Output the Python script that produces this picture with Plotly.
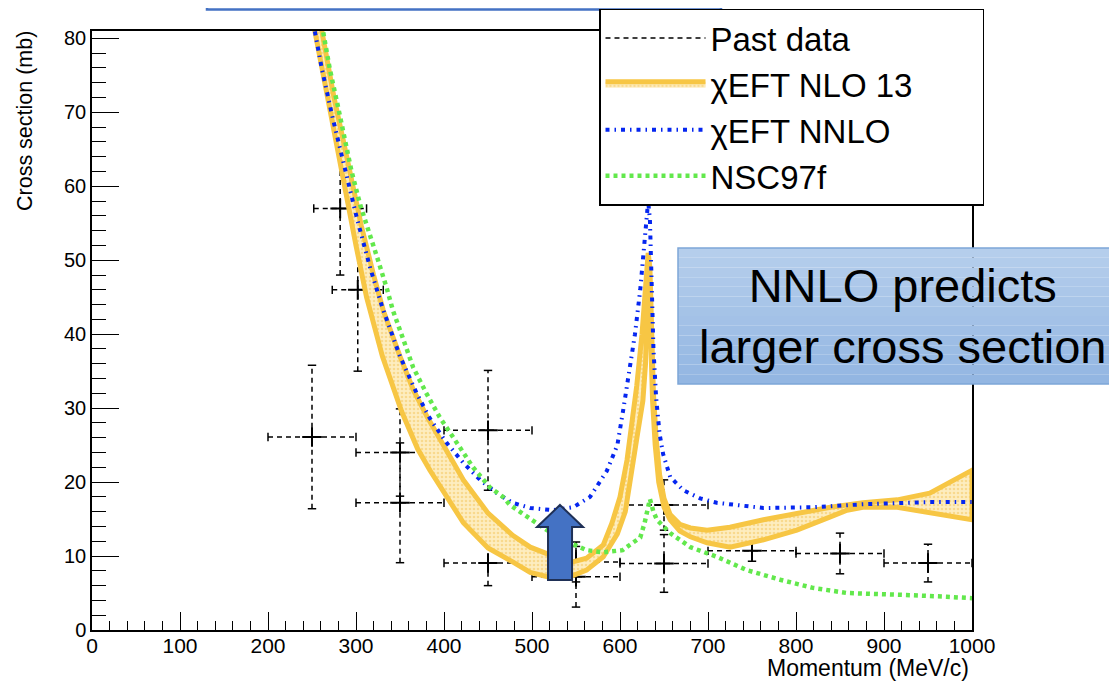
import plotly.graph_objects as go

# ---------------- data ----------------
# Past data (cross section points with errors)
data_x = [250, 282, 302, 350, 350, 450, 450, 550, 550, 650, 650, 750, 850, 950]
data_y = [26.1, 57.0, 46.0, 24.0, 17.2, 27.0, 9.05, 9.2, 7.2, 16.9, 9.0, 10.7, 10.35, 9.05]
data_xerr = [50, 30, 29, 50, 50, 50, 50, 50, 50, 50, 50, 50, 50, 50]
data_yerr = [9.7, 9.0, 11.0, 5.9, 8.1, 8.1, 3.05, 2.7, 4.1, 3.4, 3.9, 1.4, 2.75, 2.55]

# chiEFT NLO 13 band: upper edge
nlo_up_x = [255, 265, 275, 285, 300, 306, 320, 331, 350, 365, 381, 403, 422, 450, 478, 498,
            524, 543, 562, 581, 591, 600, 608, 614, 619, 625, 629, 632, 634, 636, 638, 641,
            645, 650, 657, 668, 680, 699, 725, 763, 801, 839, 876, 915, 952, 1000]
nlo_up_y = [85, 78.5, 72, 66.5, 58.1, 54.7, 48, 43.2, 37, 32.5, 28.8, 24.3, 20.3, 15.8, 12.8, 11.2,
            9.9, 9.1, 9.7, 11.5, 14.5, 18, 23, 28, 33, 40, 46, 51, 49, 40, 32, 26,
            21, 17.8, 15.6, 14.3, 13.8, 13.5, 13.9, 14.9, 15.8, 16.6, 17.2, 17.6, 18.5, 21.6]
# chiEFT NLO 13 band: lower edge
nlo_lo_x = [250, 260, 270, 280, 290, 300, 312, 330, 352, 370, 384, 400, 422, 450, 478, 498,
            524, 543, 562, 581, 597, 606, 612, 620, 626, 629, 632, 633, 635, 637, 640, 644,
            650, 657, 668, 680, 699, 725, 763, 801, 839, 858, 876, 915, 952, 1000]
nlo_lo_y = [83, 76.5, 70, 64, 58.3, 52, 45, 37, 29.5, 24.5, 21.6, 18.5, 14.5, 11.1, 9.2, 7.8,
            7.0, 7.2, 8.1, 9.9, 13, 16, 20, 26.6, 31, 36, 48, 49, 39, 31, 25, 20,
            16.6, 14.9, 13.4, 12.6, 11.8, 11.2, 12.2, 13.5, 15.3, 16.2, 16.6, 16.6, 15.9, 14.9]

# chiEFT NNLO
nnlo_x = [250, 261, 273, 282, 291, 301, 316, 330, 350, 369, 384, 403, 422, 441, 460, 478, 498,
          524, 547, 566, 585, 597, 604, 611, 617, 623, 627, 630, 632, 634, 636, 638, 641, 645,
          649, 657, 672, 691, 710, 763, 819, 876, 952, 1000]
nnlo_y = [83, 76, 69.5, 65, 60.5, 55.7, 49, 43.6, 37, 32, 28.6, 25.3, 22.6, 20.3, 18.5, 17.2, 16.5,
          16.2, 16.6, 18, 21.5, 25, 30, 35.5, 40, 46, 52, 56.5, 58, 55.5, 47, 38, 31.5, 26.5,
          23.8, 20.7, 18.9, 17.8, 17.2, 16.5, 16.6, 17.0, 17.3, 17.3]

# NSC97f
nsc_x = [258, 263, 270, 280, 288, 295, 305, 316, 324, 335, 342, 354, 365, 380, 395, 418, 433,
         452, 467, 475, 498, 517, 543, 562, 581, 603, 611, 623, 628, 634, 638, 642, 657, 680,
         710, 744, 782, 819, 858, 895, 933, 971, 1000]
nsc_y = [84, 80.5, 76, 70.5, 66, 62, 57.4, 53.6, 50.4, 46.2, 43.2, 39.2, 35.5, 32, 28.8, 24.7, 22,
         19.3, 18, 16.9, 15, 13.5, 11.8, 10.8, 10.5, 10.8, 11.5, 12.5, 14.5, 17.7, 16, 14.9, 13.1, 11.2,
         9.9, 8.1, 6.8, 5.7, 5.0, 4.9, 4.7, 4.5, 4.3]

legend_names = ["Past data", "χEFT NLO 13", "χEFT NNLO", "NSC97f"]

# ---------------- figure ----------------
FONT = "Liberation Sans, Arial, sans-serif"
fig = go.Figure()

# error bars as dashed segments (built from data arrays)
ex, ey = [], []
capx_h, capy_h, capx_v, capy_v = [], [], [], []
for x, y, xe, ye in zip(data_x, data_y, data_xerr, data_yerr):
    ex += [x - xe, x + xe, None, x, x, None]
    ey += [y, y, None, y - ye, y + ye, None]
    capx_h += [x - xe, x + xe]
    capy_h += [y, y]
    capx_v += [x, x]
    capy_v += [y - ye, y + ye]

fig.add_trace(go.Scatter(
    x=ex, y=ey, mode="lines", name=legend_names[0], legendgroup="a",
    line=dict(color="black", width=1.5, dash="5px,4px"), connectgaps=False))
fig.add_trace(go.Scatter(
    x=capx_h, y=capy_h, mode="markers", showlegend=False,
    marker=dict(symbol="line-ns", size=6, line=dict(color="black", width=1.5))))
fig.add_trace(go.Scatter(
    x=capx_v, y=capy_v, mode="markers", showlegend=False,
    marker=dict(symbol="line-ew", size=6, line=dict(color="black", width=1.5))))
fig.add_trace(go.Scatter(
    x=data_x, y=data_y, mode="markers", showlegend=False,
    marker=dict(symbol="cross-thin", size=14, line=dict(color="black", width=2))))

# NLO band as closed polygon
band_x = nlo_up_x + nlo_lo_x[::-1]
band_y = nlo_up_y + nlo_lo_y[::-1]
fig.add_trace(go.Scatter(
    x=band_x, y=band_y, mode="lines", fill="toself",
    name=legend_names[1] + "\u00a0" * 7, legendgroup="b",
    line=dict(color="#F7C644", width=5),
    fillcolor="#FCE5A6",
    fillpattern=dict(shape=".", fgcolor="#F3C65A", bgcolor="#FDEDC0", size=4, solidity=0.35)))

fig.add_trace(go.Scatter(
    x=nnlo_x, y=nnlo_y, mode="lines", name=legend_names[2], legendgroup="c",
    line=dict(color="#0526F0", width=4, dash="4px,5px,1.5px,5px")))

fig.add_trace(go.Scatter(
    x=nsc_x, y=nsc_y, mode="lines", name=legend_names[3], legendgroup="d",
    line=dict(color="#62E84C", width=4.5, dash="4px,4px")))

# ---------------- decorations ----------------
def X(px):
    return (px - 92) / 880.0

def Y(py):
    return (630 - py) / 599.0

shapes = []
# top-left slide box (partially visible; the page starts 8px below the window top)
shapes.append(dict(type="rect", xref="paper", yref="paper", x0=X(207), x1=X(721), y0=Y(9.5), y1=Y(-20),
                   line=dict(color="#4472C4", width=2.5), fillcolor="white", layer="above"))
# callout box with vertical gradient
n = 14
top, bot = 248, 384
c0 = (181, 206, 236)
c1 = (147, 182, 226)
for i in range(n):
    t = i / (n - 1)
    col = "rgb(%d,%d,%d)" % tuple(round(a + (b - a) * t) for a, b in zip(c0, c1))
    y0p = top + (bot - top) * i / n
    y1p = top + (bot - top) * (i + 1) / n
    shapes.append(dict(type="rect", xref="paper", yref="paper", x0=X(678), x1=X(1150),
                       y0=Y(y1p), y1=Y(y0p), line=dict(width=0), fillcolor=col, layer="above"))
shapes.append(dict(type="rect", xref="paper", yref="paper", x0=X(678), x1=X(1150), y0=Y(bot), y1=Y(top),
                   line=dict(color="#7EA6D8", width=1.5), fillcolor="rgba(0,0,0,0)", layer="above"))
# block arrow
pts = [(560, 505), (583, 527), (572, 527), (572, 580), (548, 580), (548, 527), (537, 527)]
path = "M " + " L ".join("%.4f,%.4f" % (X(a), Y(b)) for a, b in pts) + " Z"
shapes.append(dict(type="path", xref="paper", yref="paper", path=path,
                   fillcolor="#4472C4", line=dict(color="#1F3056", width=2), layer="above"))

annotations = [
    dict(text="NNLO predicts<br>larger cross section", xref="paper", yref="paper",
         x=X(903), y=Y(316), xanchor="center", yanchor="middle", showarrow=False,
         font=dict(family=FONT, size=47, color="black")),
    dict(text="Cross section (mb)", xref="paper", yref="paper", x=X(25), y=Y(121),
         xanchor="center", yanchor="middle", textangle=-90, showarrow=False,
         font=dict(family=FONT, size=21.5, color="black")),
    dict(text="Momentum (MeV/c)", xref="paper", yref="paper", x=X(971), y=Y(668),
         xanchor="right", yanchor="middle", showarrow=False,
         font=dict(family=FONT, size=23, color="black")),
]

# page body has an 8px default margin: shift the layout margins accordingly
fig.update_layout(
    width=1117, height=682,
    margin=dict(l=84, r=153, t=23, b=60, autoexpand=False),
    paper_bgcolor="white", plot_bgcolor="white",
    font=dict(family=FONT, color="black"),
    shapes=shapes, annotations=annotations,
    showlegend=True,
    legend=dict(x=X(599), y=Y(8.5), xanchor="left", yanchor="top",
                bgcolor="white", bordercolor="black", borderwidth=1.5,
                font=dict(family=FONT, size=33, color="black"),
                itemwidth=100, tracegroupgap=0, traceorder="grouped"),
    xaxis=dict(range=[0, 1000], showgrid=False, zeroline=False, showline=True,
               linecolor="black", linewidth=1.5, mirror=True,
               ticks="inside", ticklen=18, tickwidth=1.3, tickcolor="black", dtick=100, tick0=0,
               ticklabelstandoff=-4,
               tickfont=dict(family=FONT, size=21, color="black"),
               minor=dict(ticks="inside", ticklen=9, dtick=20, tickcolor="black", tickwidth=1.2)),
    yaxis=dict(range=[0, 81], showgrid=False, zeroline=False, showline=True,
               linecolor="black", linewidth=1.5, mirror=True,
               ticks="inside", ticklen=27, tickwidth=1.3, tickcolor="black", dtick=10, tick0=0,
               tickfont=dict(family=FONT, size=20, color="black"),
               minor=dict(ticks="inside", ticklen=14, dtick=2, tickcolor="black", tickwidth=1.2)),
)

fig.write_html("out.html")
